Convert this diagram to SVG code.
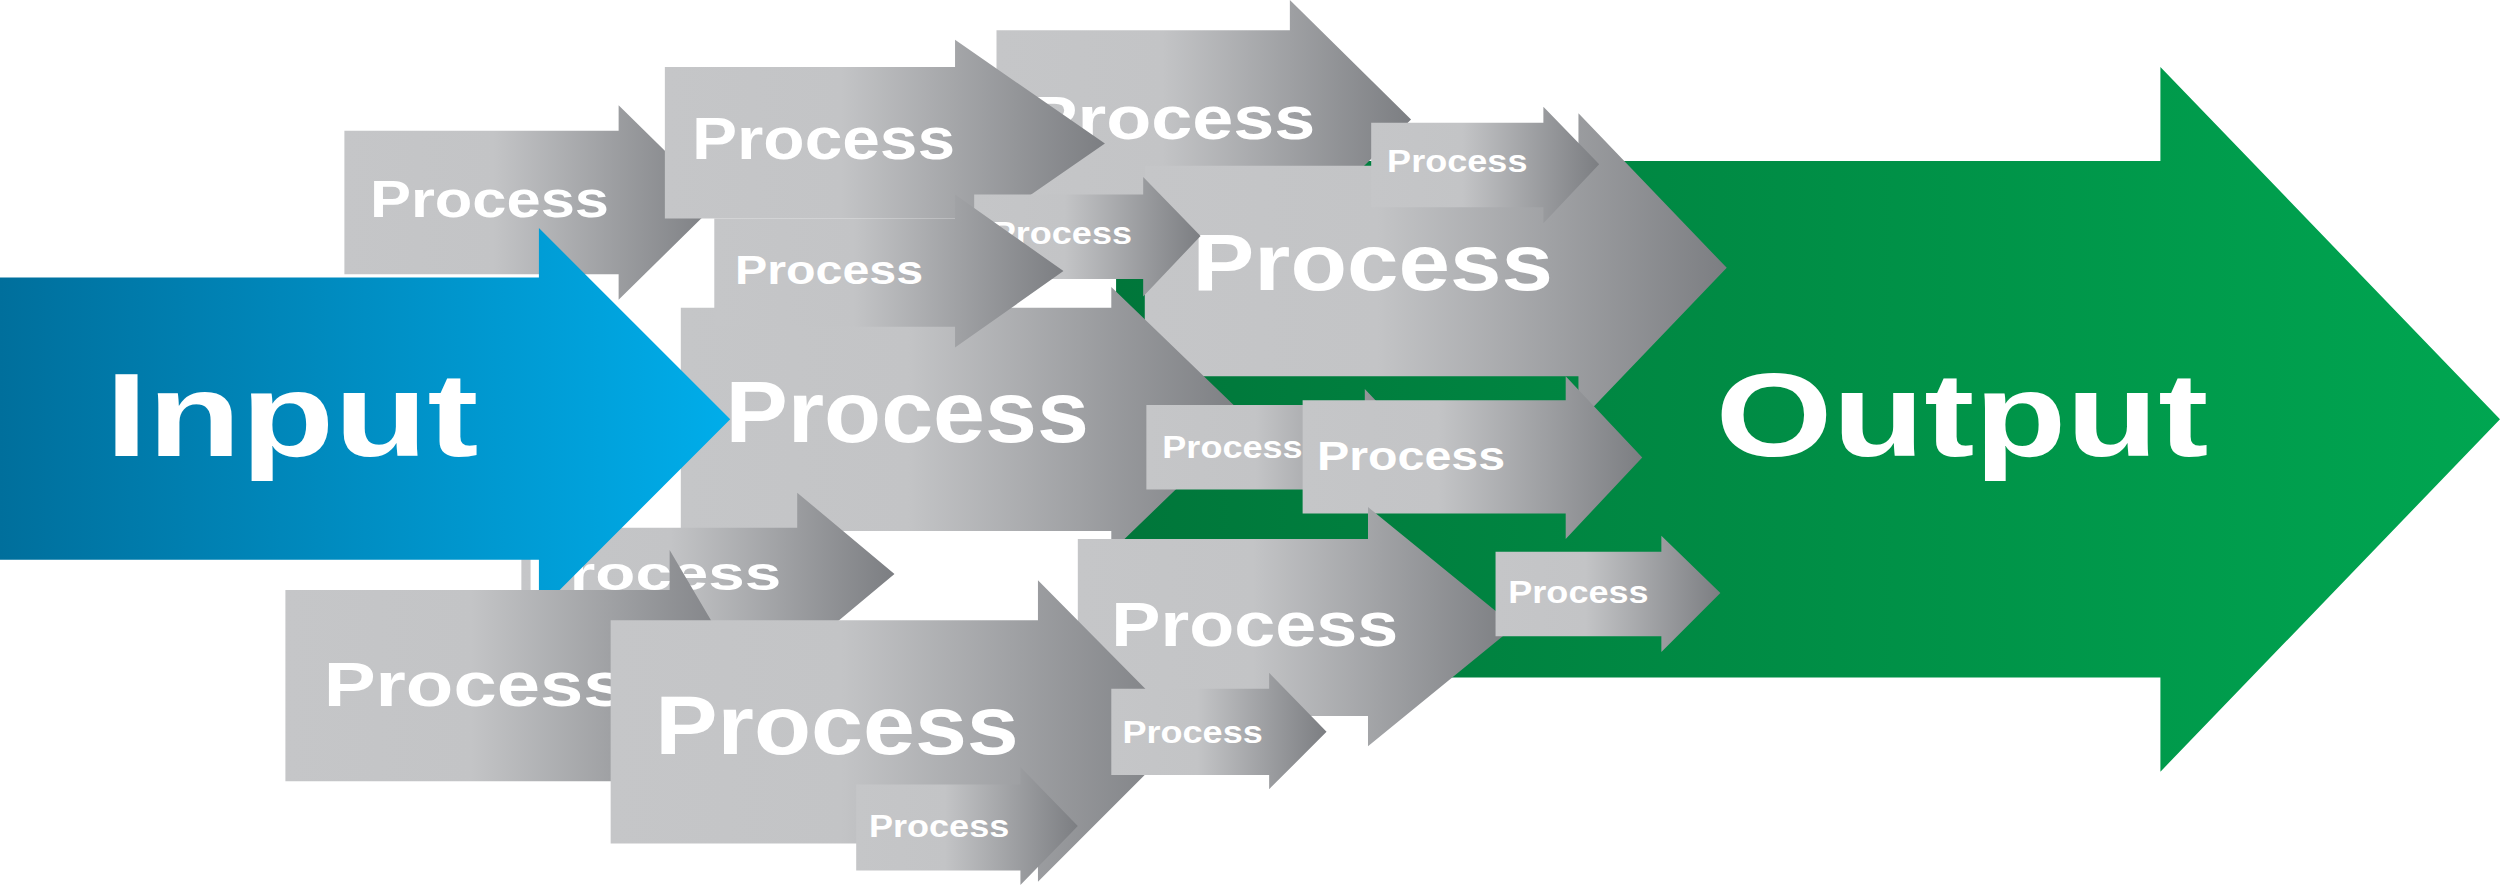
<svg xmlns="http://www.w3.org/2000/svg" width="2500" height="887" viewBox="0 0 2500 887">
<defs>
<linearGradient id="gray" x1="0" y1="0" x2="1" y2="0"><stop offset="0" stop-color="#c5c6c8"/><stop offset="0.4" stop-color="#c3c4c6"/><stop offset="1" stop-color="#7c7e82"/></linearGradient>
<linearGradient id="blue" x1="0" y1="0" x2="1" y2="0"><stop offset="0" stop-color="#006f9c"/><stop offset="1" stop-color="#00adea"/></linearGradient>
<linearGradient id="green" x1="0" y1="0" x2="1" y2="0"><stop offset="0" stop-color="#00763a"/><stop offset="1" stop-color="#00a651"/></linearGradient>
<style>
.g{fill:url(#gray)}
text{font-family:"Liberation Sans",Arial,sans-serif;font-weight:bold;fill:#fff}
</style>
</defs>
<rect width="2500" height="887" fill="#fff"/>
<g transform="scale(1.5944)">
<g id="output"><path d="M700,101 H1355 V42 L1568,263 L1355,484 V425 H700 Z" fill="url(#green)"/><text x="1076" y="286" font-size="75" textLength="309" lengthAdjust="spacingAndGlyphs">Output</text></g>
<g id="pA"><path class="g" d="M216,82 H388 V66 L450,127 L388,188 V172 H216 Z"/><text x="232" y="136" font-size="33" textLength="150" lengthAdjust="spacingAndGlyphs">Process</text></g>
<g id="pC"><path class="g" d="M625,19 H809 V0 L885,75 L809,150 V130 H625 Z"/><text x="645" y="87" font-size="38" textLength="180" lengthAdjust="spacingAndGlyphs">Process</text></g>
<g id="pB"><path class="g" d="M417,42 H599 V25 L693,90 L599,155 V137 H417 Z"/><text x="434" y="100" font-size="37" textLength="165" lengthAdjust="spacingAndGlyphs">Process</text></g>
<g id="pD"><path class="g" d="M718,104 H990 V71 L1083,168 L990,265 V236 H718 Z"/><text x="748" y="182" font-size="50" textLength="226" lengthAdjust="spacingAndGlyphs">Process</text></g>
<g id="pE"><path class="g" d="M860,77 H968 V67 L1003,103 L968,140 V130 H860 Z"/><text x="870" y="108" font-size="20" textLength="88" lengthAdjust="spacingAndGlyphs">Process</text></g>
<g id="pF"><path class="g" d="M611,122 H717 V111 L753,148 L717,186 V175 H611 Z"/><text x="622" y="153" font-size="20" textLength="88" lengthAdjust="spacingAndGlyphs">Process</text></g>
<g id="pH"><path class="g" d="M427,193 H697 V180 L783,263 L697,346 V333 H427 Z"/><text x="455" y="277" font-size="55" textLength="228" lengthAdjust="spacingAndGlyphs">Process</text></g>
<g id="pG"><path class="g" d="M448,137 H599 V122 L667,170 L599,218 V205 H448 Z"/><text x="461" y="178" font-size="26" textLength="118" lengthAdjust="spacingAndGlyphs">Process</text></g>
<g id="pK"><path class="g" d="M327,331 H500 V309 L561,360 L500,411 V391 H327 Z"/><text x="330" y="370" font-size="30" textLength="160" lengthAdjust="spacingAndGlyphs">Process</text></g>
<g id="input"><path d="M0,174 H338 V143 L458,263 L338,383 V351 H0 Z" fill="url(#blue)"/><text x="66" y="286" font-size="75" textLength="234" lengthAdjust="spacingAndGlyphs">Input</text></g>
<g id="pI"><path class="g" d="M719,254 H856 V244 L891,281 L856,318 V307 H719 Z"/><text x="729" y="287" font-size="20" textLength="88" lengthAdjust="spacingAndGlyphs">Process</text></g>
<g id="pJ"><path class="g" d="M817,251 H982 V236 L1030,287 L982,338 V322 H817 Z"/><text x="826" y="295" font-size="26" textLength="118" lengthAdjust="spacingAndGlyphs">Process</text></g>
<g id="pL"><path class="g" d="M179,370 H420 V345 L470,430 L420,515 V490 H179 Z"/><text x="203" y="443" font-size="40" textLength="190" lengthAdjust="spacingAndGlyphs">Process</text></g>
<g id="pM"><path class="g" d="M676,338 H858 V318 L950,393 L858,468 V449 H676 Z"/><text x="697" y="405" font-size="40" textLength="180" lengthAdjust="spacingAndGlyphs">Process</text></g>
<g id="pN"><path class="g" d="M383,389 H651 V364 L745,459 L651,553 V529 H383 Z"/><text x="411" y="473" font-size="52" textLength="228" lengthAdjust="spacingAndGlyphs">Process</text></g>
<g id="pO"><path class="g" d="M938,346 H1042 V336 L1079,372 L1042,409 V399 H938 Z"/><text x="946" y="378" font-size="20" textLength="88" lengthAdjust="spacingAndGlyphs">Process</text></g>
<g id="pP"><path class="g" d="M697,432 H796 V422 L832,459 L796,495 V486 H697 Z"/><text x="704" y="466" font-size="20" textLength="88" lengthAdjust="spacingAndGlyphs">Process</text></g>
<g id="pQ"><path class="g" d="M537,492 H640 V481 L676,518 L640,555 V546 H537 Z"/><text x="545" y="525" font-size="20" textLength="88" lengthAdjust="spacingAndGlyphs">Process</text></g>
<g id="connectors"/>
</g>
</svg>
